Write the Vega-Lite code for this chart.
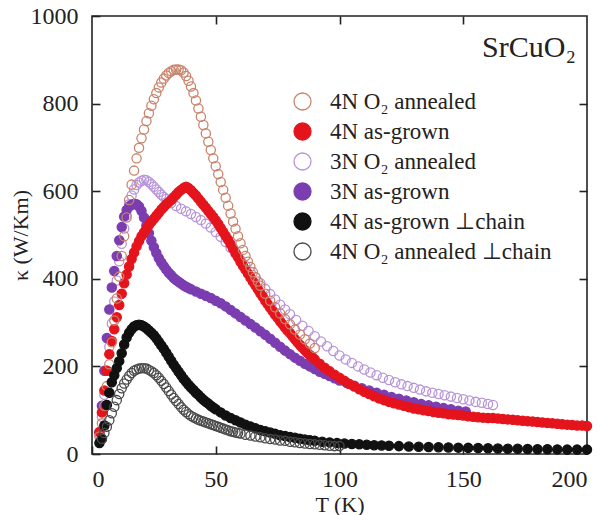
{
"$schema":"https://vega.github.io/schema/vega-lite/v6.json",
"width":495,"height":438,
"autosize":"none",
"padding":{"left":92,"top":16,"right":18,"bottom":61},
"background":"white",
"config":{"view":{"stroke":"#222","strokeWidth":1.6},"font":"Liberation Serif",
 "style":{"guide-label":{"font":"Liberation Serif","fontSize":24,"fill":"#222"},"guide-title":{"font":"Liberation Serif","fontSize":22,"fontWeight":"normal","fill":"#222"}},
 "legend":{"labelFont":"Liberation Serif","labelFontSize":23,"labelOffset":16,"rowPadding":6,"symbolSize":289,"symbolStrokeWidth":1.3,"padding":0,"labelLimit":400},
 "axis":{"grid":false,"domain":false,"tickColor":"#222","tickWidth":1.6,"tickSize":8,"offset":-8,"labelFont":"Liberation Serif","labelFontSize":24,"labelColor":"#222","titleFont":"Liberation Serif","titleFontSize":22,"titleFontWeight":"normal","titleColor":"#222"}},
"layer":[
{"data":{"values":[
{"s":"c","T":3,"k":45},{"s":"c","T":4,"k":85},{"s":"c","T":5,"k":135},{"s":"c","T":6,"k":190},{"s":"c","T":7,"k":245},{"s":"c","T":8,"k":298},{"s":"c","T":9,"k":348},{"s":"c","T":10,"k":396},{"s":"c","T":11,"k":440},{"s":"c","T":12,"k":480},{"s":"c","T":13,"k":515},{"s":"c","T":14,"k":545},{"s":"c","T":15,"k":570},{"s":"c","T":16,"k":590},{"s":"c","T":17,"k":604},{"s":"c","T":18,"k":614},{"s":"c","T":19,"k":620},{"s":"c","T":20,"k":624},{"s":"c","T":21,"k":626},{"s":"c","T":22,"k":625},{"s":"c","T":23,"k":621},{"s":"c","T":24,"k":616},{"s":"c","T":25,"k":610},{"s":"c","T":26,"k":604},{"s":"c","T":27,"k":598},{"s":"c","T":28,"k":592},{"s":"c","T":29,"k":587},{"s":"c","T":30,"k":582},{"s":"c","T":32,"k":573},{"s":"c","T":34,"k":566},{"s":"c","T":36,"k":560},{"s":"c","T":38,"k":554},{"s":"c","T":40,"k":548},{"s":"c","T":42,"k":541},{"s":"c","T":44,"k":534},{"s":"c","T":46,"k":526},{"s":"c","T":48,"k":517},{"s":"c","T":50,"k":507},{"s":"c","T":52,"k":496},{"s":"c","T":54,"k":484},{"s":"c","T":56,"k":471},{"s":"c","T":58,"k":457},{"s":"c","T":60,"k":443},{"s":"c","T":62,"k":430},{"s":"c","T":64,"k":416},{"s":"c","T":66,"k":403},{"s":"c","T":68,"k":390},{"s":"c","T":70,"k":377},{"s":"c","T":72,"k":365},{"s":"c","T":74,"k":353},{"s":"c","T":76,"k":341},{"s":"c","T":78,"k":330},{"s":"c","T":80,"k":319},{"s":"c","T":82.5,"k":306},{"s":"c","T":85,"k":293},{"s":"c","T":87.5,"k":281},{"s":"c","T":90,"k":269},{"s":"c","T":92.5,"k":257},{"s":"c","T":95,"k":246},{"s":"c","T":97.5,"k":235},{"s":"c","T":100,"k":225},{"s":"c","T":102.5,"k":216},{"s":"c","T":105,"k":208},{"s":"c","T":107.5,"k":200},{"s":"c","T":110,"k":193},{"s":"c","T":112.5,"k":186},{"s":"c","T":115,"k":180},{"s":"c","T":117.5,"k":174},{"s":"c","T":120,"k":169},{"s":"c","T":122.5,"k":164},{"s":"c","T":125,"k":159},{"s":"c","T":127.5,"k":155},{"s":"c","T":130,"k":151},{"s":"c","T":132.5,"k":147},{"s":"c","T":135,"k":143},{"s":"c","T":137.5,"k":140},{"s":"c","T":140,"k":137},{"s":"c","T":142.5,"k":134},{"s":"c","T":145,"k":131},{"s":"c","T":147.5,"k":128},{"s":"c","T":150,"k":125},{"s":"c","T":152.5,"k":122},{"s":"c","T":155,"k":119},{"s":"c","T":157.5,"k":117},{"s":"c","T":160,"k":114},{"s":"c","T":162,"k":112},
{"s":"d","T":3,"k":50},{"s":"d","T":4,"k":110},{"s":"d","T":5,"k":190},{"s":"d","T":6,"k":265},{"s":"d","T":7,"k":330},{"s":"d","T":8,"k":380},{"s":"d","T":9,"k":418},{"s":"d","T":10,"k":452},{"s":"d","T":11,"k":488},{"s":"d","T":12,"k":518},{"s":"d","T":13,"k":542},{"s":"d","T":14,"k":557},{"s":"d","T":15,"k":565},{"s":"d","T":16,"k":569},{"s":"d","T":17,"k":571},{"s":"d","T":18,"k":570},{"s":"d","T":19,"k":565},{"s":"d","T":20,"k":555},{"s":"d","T":21,"k":540},{"s":"d","T":22,"k":522},{"s":"d","T":23,"k":504},{"s":"d","T":24,"k":487},{"s":"d","T":25,"k":472},{"s":"d","T":26,"k":459},{"s":"d","T":27,"k":447},{"s":"d","T":28,"k":437},{"s":"d","T":29,"k":429},{"s":"d","T":30,"k":421},{"s":"d","T":31,"k":414},{"s":"d","T":32,"k":408},{"s":"d","T":33,"k":402},{"s":"d","T":34,"k":397},{"s":"d","T":35,"k":393},{"s":"d","T":36,"k":389},{"s":"d","T":37,"k":385},{"s":"d","T":38,"k":382},{"s":"d","T":39,"k":379},{"s":"d","T":40,"k":376},{"s":"d","T":42,"k":371},{"s":"d","T":44,"k":366},{"s":"d","T":46,"k":361},{"s":"d","T":48,"k":356},{"s":"d","T":50,"k":350},{"s":"d","T":52,"k":344},{"s":"d","T":54,"k":337},{"s":"d","T":56,"k":329},{"s":"d","T":58,"k":321},{"s":"d","T":60,"k":313},{"s":"d","T":62,"k":305},{"s":"d","T":64,"k":297},{"s":"d","T":66,"k":289},{"s":"d","T":68,"k":280},{"s":"d","T":70,"k":272},{"s":"d","T":72,"k":263},{"s":"d","T":74,"k":254},{"s":"d","T":76,"k":245},{"s":"d","T":78,"k":236},{"s":"d","T":80,"k":228},{"s":"d","T":82,"k":220},{"s":"d","T":84,"k":213},{"s":"d","T":86,"k":206},{"s":"d","T":88,"k":200},{"s":"d","T":90,"k":194},{"s":"d","T":92,"k":188},{"s":"d","T":94,"k":183},{"s":"d","T":96,"k":178},{"s":"d","T":98,"k":173},{"s":"d","T":100,"k":168},{"s":"d","T":103,"k":162},{"s":"d","T":106,"k":156},{"s":"d","T":109,"k":150},{"s":"d","T":112,"k":145},{"s":"d","T":115,"k":140},{"s":"d","T":118,"k":135},{"s":"d","T":121,"k":130},{"s":"d","T":124,"k":126},{"s":"d","T":127,"k":122},{"s":"d","T":130,"k":118},{"s":"d","T":133,"k":114},{"s":"d","T":136,"k":111},{"s":"d","T":139,"k":108},{"s":"d","T":142,"k":105},{"s":"d","T":145,"k":102},{"s":"d","T":148,"k":99},{"s":"d","T":151,"k":97},
{"s":"b","T":3,"k":50},{"s":"b","T":4,"k":95},{"s":"b","T":5,"k":145},{"s":"b","T":6,"k":190},{"s":"b","T":7,"k":228},{"s":"b","T":8,"k":258},{"s":"b","T":9,"k":285},{"s":"b","T":10,"k":312},{"s":"b","T":11,"k":340},{"s":"b","T":12,"k":366},{"s":"b","T":13,"k":390},{"s":"b","T":14,"k":410},{"s":"b","T":15,"k":428},{"s":"b","T":16,"k":445},{"s":"b","T":17,"k":460},{"s":"b","T":18,"k":474},{"s":"b","T":19,"k":486},{"s":"b","T":20,"k":497},{"s":"b","T":21,"k":506},{"s":"b","T":22,"k":515},{"s":"b","T":23,"k":523},{"s":"b","T":24,"k":530},{"s":"b","T":25,"k":537},{"s":"b","T":26,"k":544},{"s":"b","T":27,"k":551},{"s":"b","T":28,"k":558},{"s":"b","T":29,"k":564},{"s":"b","T":30,"k":570},{"s":"b","T":31,"k":575},{"s":"b","T":32,"k":580},{"s":"b","T":33,"k":586},{"s":"b","T":34,"k":592},{"s":"b","T":35,"k":598},{"s":"b","T":36,"k":603},{"s":"b","T":37,"k":607},{"s":"b","T":38,"k":610},{"s":"b","T":39,"k":607},{"s":"b","T":40,"k":602},{"s":"b","T":41,"k":596},{"s":"b","T":42,"k":590},{"s":"b","T":43,"k":583},{"s":"b","T":44,"k":576},{"s":"b","T":45,"k":569},{"s":"b","T":46,"k":562},{"s":"b","T":47,"k":555},{"s":"b","T":48,"k":548},{"s":"b","T":49,"k":541},{"s":"b","T":50,"k":533},{"s":"b","T":51,"k":525},{"s":"b","T":52,"k":516},{"s":"b","T":53,"k":507},{"s":"b","T":54,"k":498},{"s":"b","T":55,"k":489},{"s":"b","T":56,"k":479},{"s":"b","T":57,"k":469},{"s":"b","T":58,"k":459},{"s":"b","T":59,"k":449},{"s":"b","T":60,"k":439},{"s":"b","T":61,"k":430},{"s":"b","T":62,"k":421},{"s":"b","T":63,"k":412},{"s":"b","T":64,"k":403},{"s":"b","T":65,"k":394},{"s":"b","T":66,"k":385},{"s":"b","T":67,"k":376},{"s":"b","T":68,"k":367},{"s":"b","T":69,"k":359},{"s":"b","T":70,"k":350},{"s":"b","T":71,"k":342},{"s":"b","T":72,"k":334},{"s":"b","T":73,"k":326},{"s":"b","T":74,"k":318},{"s":"b","T":75,"k":311},{"s":"b","T":76,"k":303},{"s":"b","T":77,"k":296},{"s":"b","T":78,"k":289},{"s":"b","T":79,"k":282},{"s":"b","T":80,"k":276},{"s":"b","T":81,"k":269},{"s":"b","T":82,"k":262},{"s":"b","T":83,"k":255},{"s":"b","T":84,"k":249},{"s":"b","T":85,"k":243},{"s":"b","T":86,"k":237},{"s":"b","T":87,"k":231},{"s":"b","T":88,"k":226},{"s":"b","T":89,"k":221},{"s":"b","T":90,"k":216},{"s":"b","T":92,"k":206},{"s":"b","T":94,"k":197},{"s":"b","T":96,"k":189},{"s":"b","T":98,"k":181},{"s":"b","T":100,"k":174},{"s":"b","T":102,"k":167},{"s":"b","T":104,"k":160},{"s":"b","T":106,"k":154},{"s":"b","T":108,"k":148},{"s":"b","T":110,"k":142},{"s":"b","T":112,"k":137},{"s":"b","T":114,"k":132},{"s":"b","T":116,"k":127},{"s":"b","T":118,"k":123},{"s":"b","T":120,"k":119},{"s":"b","T":122,"k":116},{"s":"b","T":124,"k":113},{"s":"b","T":126,"k":110},{"s":"b","T":128,"k":107},{"s":"b","T":130,"k":104},{"s":"b","T":132,"k":102},{"s":"b","T":134,"k":100},{"s":"b","T":136,"k":98},{"s":"b","T":138,"k":96},{"s":"b","T":140,"k":94},{"s":"b","T":142,"k":93},{"s":"b","T":144,"k":91},{"s":"b","T":146,"k":90},{"s":"b","T":148,"k":89},{"s":"b","T":150,"k":88},{"s":"b","T":152,"k":86},{"s":"b","T":154,"k":85},{"s":"b","T":156,"k":84},{"s":"b","T":158,"k":83},{"s":"b","T":160,"k":82},{"s":"b","T":162,"k":82},{"s":"b","T":164,"k":81},{"s":"b","T":166,"k":80},{"s":"b","T":168,"k":79},{"s":"b","T":170,"k":78},{"s":"b","T":172,"k":77},{"s":"b","T":174,"k":76},{"s":"b","T":176,"k":75},{"s":"b","T":178,"k":74},{"s":"b","T":180,"k":73},{"s":"b","T":182,"k":72},{"s":"b","T":184,"k":71},{"s":"b","T":186,"k":70},{"s":"b","T":188,"k":69},{"s":"b","T":190,"k":68},{"s":"b","T":192,"k":67},{"s":"b","T":194,"k":66},{"s":"b","T":196,"k":65},{"s":"b","T":198,"k":65},{"s":"b","T":200,"k":64},
{"s":"a","T":3,"k":40},{"s":"a","T":4,"k":70},{"s":"a","T":5,"k":110},{"s":"a","T":6,"k":155},{"s":"a","T":7,"k":205},{"s":"a","T":8,"k":255},{"s":"a","T":9,"k":305},{"s":"a","T":10,"k":355},{"s":"a","T":11,"k":405},{"s":"a","T":12,"k":452},{"s":"a","T":13,"k":497},{"s":"a","T":14,"k":540},{"s":"a","T":15,"k":580},{"s":"a","T":16,"k":615},{"s":"a","T":17,"k":647},{"s":"a","T":18,"k":675},{"s":"a","T":19,"k":699},{"s":"a","T":20,"k":721},{"s":"a","T":21,"k":741},{"s":"a","T":22,"k":760},{"s":"a","T":23,"k":778},{"s":"a","T":24,"k":795},{"s":"a","T":25,"k":810},{"s":"a","T":26,"k":824},{"s":"a","T":27,"k":837},{"s":"a","T":28,"k":848},{"s":"a","T":29,"k":857},{"s":"a","T":30,"k":864},{"s":"a","T":31,"k":870},{"s":"a","T":32,"k":874},{"s":"a","T":33,"k":877},{"s":"a","T":34,"k":878},{"s":"a","T":35,"k":878},{"s":"a","T":36,"k":876},{"s":"a","T":37,"k":871},{"s":"a","T":38,"k":863},{"s":"a","T":39,"k":852},{"s":"a","T":40,"k":839},{"s":"a","T":41,"k":824},{"s":"a","T":42,"k":807},{"s":"a","T":43,"k":789},{"s":"a","T":44,"k":770},{"s":"a","T":45,"k":751},{"s":"a","T":46,"k":732},{"s":"a","T":47,"k":713},{"s":"a","T":48,"k":694},{"s":"a","T":49,"k":675},{"s":"a","T":50,"k":657},{"s":"a","T":51,"k":639},{"s":"a","T":52,"k":621},{"s":"a","T":53,"k":603},{"s":"a","T":54,"k":585},{"s":"a","T":55,"k":567},{"s":"a","T":56,"k":549},{"s":"a","T":57,"k":531},{"s":"a","T":58,"k":514},{"s":"a","T":59,"k":497},{"s":"a","T":60,"k":481},{"s":"a","T":61,"k":466},{"s":"a","T":62,"k":452},{"s":"a","T":63,"k":439},{"s":"a","T":64,"k":427},{"s":"a","T":65,"k":415},{"s":"a","T":66,"k":404},{"s":"a","T":67,"k":394},{"s":"a","T":68,"k":384},{"s":"a","T":70,"k":366},{"s":"a","T":72,"k":350},{"s":"a","T":74,"k":335},{"s":"a","T":76,"k":321},{"s":"a","T":78,"k":308},{"s":"a","T":80,"k":296},{"s":"a","T":82,"k":284},{"s":"a","T":84,"k":273},{"s":"a","T":86,"k":262},{"s":"a","T":88,"k":252},{"s":"a","T":90,"k":242},
{"s":"e","T":3,"k":25},{"s":"e","T":4,"k":35},{"s":"e","T":5,"k":65},{"s":"e","T":6,"k":112},{"s":"e","T":7,"k":140},{"s":"e","T":8,"k":164},{"s":"e","T":9,"k":180},{"s":"e","T":10,"k":196},{"s":"e","T":11,"k":212},{"s":"e","T":12,"k":230},{"s":"e","T":13,"k":250},{"s":"e","T":14,"k":266},{"s":"e","T":15,"k":277},{"s":"e","T":16,"k":285},{"s":"e","T":17,"k":291},{"s":"e","T":18,"k":294},{"s":"e","T":19,"k":295},{"s":"e","T":20,"k":294},{"s":"e","T":21,"k":291},{"s":"e","T":22,"k":287},{"s":"e","T":23,"k":282},{"s":"e","T":24,"k":277},{"s":"e","T":25,"k":271},{"s":"e","T":26,"k":264},{"s":"e","T":27,"k":256},{"s":"e","T":28,"k":248},{"s":"e","T":29,"k":240},{"s":"e","T":30,"k":231},{"s":"e","T":31,"k":222},{"s":"e","T":32,"k":213},{"s":"e","T":33,"k":204},{"s":"e","T":34,"k":196},{"s":"e","T":35,"k":188},{"s":"e","T":36,"k":180},{"s":"e","T":37,"k":172},{"s":"e","T":38,"k":165},{"s":"e","T":39,"k":158},{"s":"e","T":40,"k":152},{"s":"e","T":41,"k":146},{"s":"e","T":42,"k":140},{"s":"e","T":43,"k":135},{"s":"e","T":44,"k":129},{"s":"e","T":45,"k":124},{"s":"e","T":46,"k":119},{"s":"e","T":47,"k":115},{"s":"e","T":48,"k":110},{"s":"e","T":49,"k":106},{"s":"e","T":50,"k":102},{"s":"e","T":52,"k":95},{"s":"e","T":54,"k":88},{"s":"e","T":56,"k":82},{"s":"e","T":58,"k":77},{"s":"e","T":60,"k":72},{"s":"e","T":62,"k":67},{"s":"e","T":64,"k":63},{"s":"e","T":66,"k":59},{"s":"e","T":68,"k":55},{"s":"e","T":70,"k":52},{"s":"e","T":72,"k":49},{"s":"e","T":74,"k":46},{"s":"e","T":76,"k":43},{"s":"e","T":78,"k":41},{"s":"e","T":80,"k":39},{"s":"e","T":82,"k":37},{"s":"e","T":84,"k":35},{"s":"e","T":86,"k":33},{"s":"e","T":88,"k":31.5},{"s":"e","T":90,"k":30},{"s":"e","T":93,"k":28},{"s":"e","T":96,"k":26.5},{"s":"e","T":99,"k":25},{"s":"e","T":102,"k":24},{"s":"e","T":105,"k":23},{"s":"e","T":108,"k":22},{"s":"e","T":111,"k":21},{"s":"e","T":114,"k":20},{"s":"e","T":117,"k":19.5},{"s":"e","T":120,"k":19},{"s":"e","T":124,"k":18},{"s":"e","T":128,"k":17},{"s":"e","T":132,"k":16.5},{"s":"e","T":136,"k":16},{"s":"e","T":140,"k":15.5},{"s":"e","T":144,"k":15},{"s":"e","T":148,"k":14.5},{"s":"e","T":152,"k":14},{"s":"e","T":156,"k":13.5},{"s":"e","T":160,"k":13},{"s":"e","T":164,"k":12.5},{"s":"e","T":168,"k":12},{"s":"e","T":172,"k":12},{"s":"e","T":176,"k":11.5},{"s":"e","T":180,"k":11},{"s":"e","T":184,"k":11},{"s":"e","T":188,"k":10.5},{"s":"e","T":192,"k":10},{"s":"e","T":196,"k":10},{"s":"e","T":200,"k":10},
{"s":"f","T":4,"k":35},{"s":"f","T":5,"k":48},{"s":"f","T":6,"k":62},{"s":"f","T":7,"k":77},{"s":"f","T":8,"k":93},{"s":"f","T":9,"k":108},{"s":"f","T":10,"k":123},{"s":"f","T":11,"k":137},{"s":"f","T":12,"k":150},{"s":"f","T":13,"k":161},{"s":"f","T":14,"k":170},{"s":"f","T":15,"k":178},{"s":"f","T":16,"k":185},{"s":"f","T":17,"k":190},{"s":"f","T":18,"k":193},{"s":"f","T":19,"k":195},{"s":"f","T":20,"k":196},{"s":"f","T":21,"k":196},{"s":"f","T":22,"k":195},{"s":"f","T":23,"k":192},{"s":"f","T":24,"k":189},{"s":"f","T":25,"k":185},{"s":"f","T":26,"k":180},{"s":"f","T":27,"k":174},{"s":"f","T":28,"k":167},{"s":"f","T":29,"k":160},{"s":"f","T":30,"k":152},{"s":"f","T":31,"k":144},{"s":"f","T":32,"k":136},{"s":"f","T":33,"k":128},{"s":"f","T":34,"k":121},{"s":"f","T":35,"k":114},{"s":"f","T":36,"k":107},{"s":"f","T":37,"k":101},{"s":"f","T":38,"k":96},{"s":"f","T":39,"k":91},{"s":"f","T":40,"k":87},{"s":"f","T":41,"k":84},{"s":"f","T":42,"k":81},{"s":"f","T":43,"k":78},{"s":"f","T":44,"k":76},{"s":"f","T":45,"k":74},{"s":"f","T":46,"k":72},{"s":"f","T":47,"k":70},{"s":"f","T":48,"k":68},{"s":"f","T":49,"k":66},{"s":"f","T":50,"k":64},{"s":"f","T":51,"k":62},{"s":"f","T":52,"k":60},{"s":"f","T":53,"k":58},{"s":"f","T":54,"k":56},{"s":"f","T":55,"k":54},{"s":"f","T":56,"k":52},{"s":"f","T":57,"k":51},{"s":"f","T":58,"k":49},{"s":"f","T":59,"k":48},{"s":"f","T":60,"k":47},{"s":"f","T":62,"k":44},{"s":"f","T":64,"k":42},{"s":"f","T":66,"k":40},{"s":"f","T":68,"k":38},{"s":"f","T":70,"k":36},{"s":"f","T":72,"k":34},{"s":"f","T":74,"k":33},{"s":"f","T":76,"k":31},{"s":"f","T":78,"k":30},{"s":"f","T":80,"k":28},{"s":"f","T":82,"k":27},{"s":"f","T":84,"k":25},{"s":"f","T":86,"k":24},{"s":"f","T":88,"k":23},{"s":"f","T":90,"k":22},{"s":"f","T":92,"k":21},{"s":"f","T":94,"k":20},{"s":"f","T":96,"k":19},{"s":"f","T":98,"k":18},{"s":"f","T":100,"k":18}
]},
"mark":{"type":"point","shape":"circle","size":85,"strokeWidth":1.3,"opacity":1},
"encoding":{
 "x":{"field":"T","type":"quantitative","scale":{"domain":[0,200],"nice":false,"zero":false},"axis":{"values":[0,50,100,150,200],"format":"d","title":"T (K)","labelPadding":13,"titlePadding":3}},
 "y":{"field":"k","type":"quantitative","scale":{"domain":[0,1000],"nice":false},"axis":{"values":[0,200,400,600,800,1000],"format":"d","title":"κ (W/Km)","labelPadding":14,"titlePadding":-2}},
 "stroke":{"field":"s","type":"nominal","scale":{"domain":["a","b","c","d","e","f"],"range":["#c8846c","#e5141c","#b794d8","#7b3db0","#111111","#4a4a4a"]},
   "legend":{"title":null,"orient":"none","legendX":199,"legendY":74,"padding":0,"symbolSize":289,"symbolStrokeWidth":1.3,"labelFontSize":23,"labelFont":"Liberation Serif","labelOffset":16,"rowPadding":6,"labelLimit":400,
    "labelExpr":"datum.value==='a'?'4N O₂ annealed':datum.value==='b'?'4N as-grown':datum.value==='c'?'3N O₂ annealed':datum.value==='d'?'3N as-grown':datum.value==='e'?'4N as-grown  ⊥chain':'4N O₂ annealed ⊥chain'",
    "encode":{"labels":{"update":{"fill":{"signal":"datum.value==='a'?'#c27a68':datum.value==='b'?'#bf3a3c':datum.value==='c'?'#9a86b4':datum.value==='d'?'#8a6cb4':'#222222'"}}}}}},
 "fill":{"field":"s","type":"nominal","scale":{"domain":["a","b","c","d","e","f"],"range":["transparent","#e5141c","transparent","#7b3db0","#111111","transparent"]},
   "legend":{"title":null,"orient":"none","legendX":199,"legendY":74,"padding":0,"symbolSize":289,"symbolStrokeWidth":1.3,"labelFontSize":23,"labelFont":"Liberation Serif","labelOffset":16,"rowPadding":6,"labelLimit":400,
    "labelExpr":"datum.value==='a'?'4N O₂ annealed':datum.value==='b'?'4N as-grown':datum.value==='c'?'3N O₂ annealed':datum.value==='d'?'3N as-grown':datum.value==='e'?'4N as-grown  ⊥chain':'4N O₂ annealed ⊥chain'",
    "encode":{"labels":{"update":{"fill":{"signal":"datum.value==='a'?'#c27a68':datum.value==='b'?'#bf3a3c':datum.value==='c'?'#9a86b4':datum.value==='d'?'#8a6cb4':'#222222'"}}}}}}
}},
{"data":{"values":[{}]},
 "mark":{"type":"text","text":"SrCuO₂","align":"right","baseline":"alphabetic","fontSize":30,"font":"Liberation Serif","color":"#222"},
 "encoding":{
  "x":{"datum":195.5,"type":"quantitative","scale":{"domain":[0,200],"nice":false,"zero":false},"axis":{"orient":"top","values":[50,100,150],"labels":false,"title":null}},
  "y":{"datum":906,"type":"quantitative","scale":{"domain":[0,1000],"nice":false},"axis":{"orient":"right","values":[200,400,600,800],"labels":false,"title":null}}
 }}
],
"resolve":{"axis":{"x":"independent","y":"independent"}}
}
